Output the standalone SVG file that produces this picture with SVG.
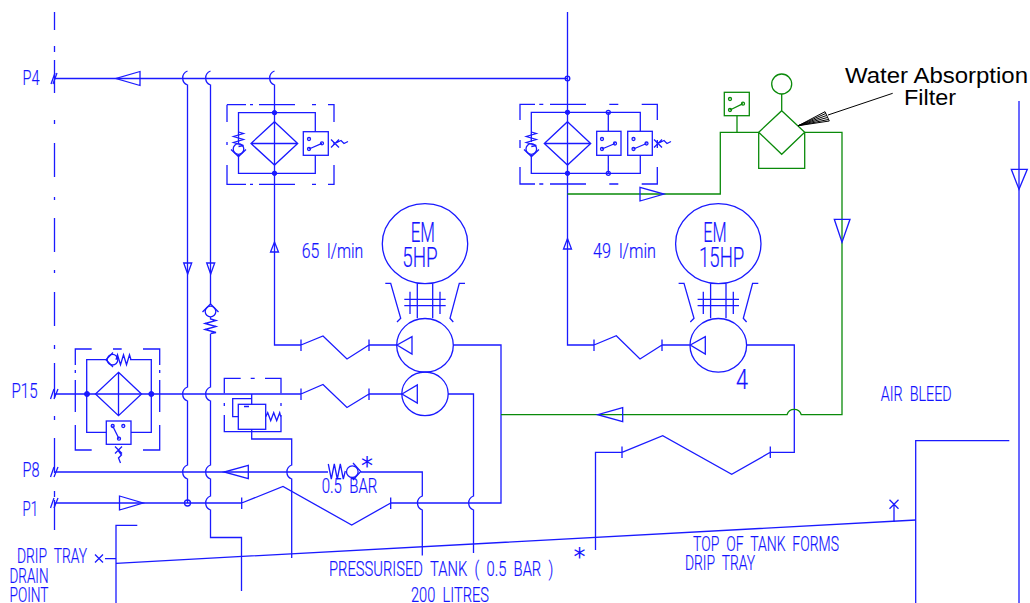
<svg xmlns="http://www.w3.org/2000/svg" width="1030" height="603" viewBox="0 0 1030 603">
<style>
.b{fill:none;stroke:#1a1aff;stroke-width:1.3}
.g{fill:none;stroke:#0a8a0a;stroke-width:1.3}
.k{fill:none;stroke:#000;stroke-width:1}
.f{fill:#1a1aff;stroke:#1a1aff}
text{font-family:"Roboto","Liberation Sans",sans-serif;font-weight:300;fill:#1414ff;stroke:#1414ff;stroke-width:.2;font-size:20px;word-spacing:5px}
.big{font-size:27px}
.bk{font-family:"Liberation Sans",Arial,sans-serif;font-weight:400;fill:#000;stroke:none;font-size:22.500px;word-spacing:0}
.st{font-family:"DejaVu Sans",sans-serif;font-weight:400;font-size:24px;stroke:none}
</style>
<rect width="1030" height="603" fill="#fff"/>
<g id="connectors">
<path class="b" d="M54.5 12V30M54.5 46V52M54.5 60V93M54.5 120V124M54.5 143V177M54.5 197V200M54.5 218V252M54.5 270V273M54.5 292V326M54.5 345V349M54.5 363V398M54.5 416V420M54.5 438V473M54.5 491V497M54.5 500V530"/>
<path class="b" d="M51 84L55 73M53 84L57 73M50.5 399L54 389M54 399L58 389M50.5 477L54 467M54 477L58 467M50.5 508L54 498M54 508L58 498"/>
<path class="b" d="M54 78.5H567.5"/>
<path class="b" d="M54 394H301M54 472H328M54 503H242"/>
<path class="b" d="M187.5 71a7.5 7.5 0 0 0 0 14V387a7.5 7.5 0 0 0 0 14V465a7.5 7.5 0 0 0 0 14V503"/>
<path class="b" d="M210.5 71a7.5 7.5 0 0 0 0 14V304M210.5 334V387a7.5 7.5 0 0 0 0 14V465a7.5 7.5 0 0 0 0 14V496a7.5 7.5 0 0 0 0 14V537.5H241.5V591"/>
<path class="b" d="M274.5 71a7.5 7.5 0 0 0 0 14V345H301M301 339.5V351M301 345L323 336L347 359L369 345M369 339.5V351M369 345H397"/>
<path class="b" d="M301 388.5V400M301 394L323 384.5L347 407.5L369 394M369 388.5V400M369 394H402"/>
<path class="b" d="M241.700 497.500V509M241.700 503L283 486.500L351.700 525L390.700 503M390.700 497.500V509M390.700 503H501V345H453.300"/>
<path class="b" d="M448 394H473.500V496a7.500 7.500 0 0 0 0 14V553"/>
<path class="b" d="M360.700 472H422.300V496a7.500 7.500 0 0 0 0 14V555.500"/>
<path class="b" d="M251.700 431.700V439H291.700V465a7.500 7.500 0 0 0 0 14V558"/>
<path class="b" d="M567.500 12V345H594M594 339.500V351M594 345L616.300 335.700L640 359L662 345M662 339.500V351M662 345H689.700"/>
<path class="b" d="M746.700 345H794.300V452.300H770.300M770.300 446.500V458M770.300 452.300L731.700 474.300L662.700 435.700L622 452.300M622 446.500V458M622 452.300H595.500V550"/>
<path class="g" d="M567.500 194H720.300V132.300H758.700M804.700 132.300H842V414.700H801.300A7.500 7.500 0 0 0 787 414.700H501"/>
<path class="b" d="M140 71.500V85.500L116 78.500ZM183.700 263H191.700L187.700 274ZM206.700 263H214.700L210.700 274ZM270.500 252H278.500L274.500 242ZM563.500 249H571.500L567.500 238.500ZM119.500 496V510L143 503ZM248.300 465.300V478.700L224 472ZM640 187.300V201L664 194ZM622.700 407.700V421.700L597.700 414.700ZM834.300 219.300H850L842 242.300ZM1011.300 169.300H1027.300L1019 189.300Z"/>
<circle class="b" cx="187.500" cy="503" r="3"/>
<circle class="b" cx="567.500" cy="78.500" r="2.300"/>
</g>
<g id="check-return">
<circle class="b" cx="210.500" cy="311.500" r="5.300"/>
<path class="b" d="M202.500 312L210.500 304L218.500 312M210.500 317V319l5.500 1.500-11 3 11 3-11 3 11 3-5.500 1"/>
</g>
<g id="filter-left">
<path class="b" d="M227 104.700V122M227 142V145M227 165V184.300H246M250 184.300H253M259 184.300H295M312 184.300H316M328 184.300H334V165M334 145V142M334 122V104.700H328M316 104.700H312M295 104.700H259M253 104.700H250M246 104.700H227"/>
<path class="b" d="M274.500 112.700H315.300V131.700M315.300 155.300V173.300H238.500V155M238.500 143V112.700H274.500"/>
<path class="b" d="M274.500 121.700L297.700 143.500L274.500 165L251 143.500ZM251 143.500H297.700"/>
<circle class="f" cx="274.500" cy="112.700" r="2.200"/><circle class="f" cx="274.500" cy="173.300" r="2.200"/>
<path class="b" d="M238.500 132l5 1.500-10 3 10 3-10 3 10 3-5 1M231 149.500l7.500 7 7.500-7"/><circle class="b" cx="238.500" cy="149" r="5.300"/>
<rect class="b" x="303.300" y="131.700" width="25" height="23.600"/>
<circle class="b" cx="309" cy="139" r="1.500"/><circle class="b" cx="309" cy="149" r="1.500"/><circle class="b" cx="322" cy="143.300" r="1.500"/>
<path class="b" d="M309 149L322 143.300M331 139.500l8 8M331 147.500l8-8M335 143.500l6-3 3 3 4-2"/>
</g>
<g id="filter-right">
<path class="b" d="M520 120V104.300H535M539.300 104.300H543.300M550 104.300H586M609.300 104.300H618.300M641.700 104.300H657.300V120M657.300 140V148M657.300 167V184H641.700M618.300 184H609.300M586 184H550M543.300 184H539.300M535 184H520V167M520 148V140"/>
<path class="b" d="M531.300 142V112.300H640.300V131.300M640.300 155.300V173.300H531.300V155"/>
<path class="b" d="M567.500 121.700L590.700 143.500L567.500 165L544.300 143.500ZM544.300 143.500H590.700M608.300 112.300V131.300M608.300 155.300V173.300"/>
<circle class="f" cx="567.500" cy="112.300" r="2.200"/><circle class="f" cx="567.500" cy="173.300" r="2.200"/>
<circle class="b" cx="608.300" cy="112.300" r="2"/><circle class="b" cx="608.300" cy="173.300" r="2"/>
<path class="b" d="M531.300 132l5 1.500-10 3 10 3-10 3 10 3-5 1M524 149.500l7.500 7 7.500-7"/><circle class="b" cx="531.300" cy="149" r="5.300"/>
<rect class="b" x="596.700" y="131.300" width="24.300" height="24"/><rect class="b" x="627.700" y="131.300" width="24.600" height="24"/>
<circle class="b" cx="602" cy="139" r="1.500"/><circle class="b" cx="602" cy="149" r="1.500"/><circle class="b" cx="615" cy="143.500" r="1.500"/>
<circle class="b" cx="633.500" cy="139" r="1.500"/><circle class="b" cx="633.500" cy="149" r="1.500"/><circle class="b" cx="646.500" cy="143.500" r="1.500"/>
<path class="b" d="M602 149L615 143.500M633.500 149L646.500 143.500M654 139.500l8 8M654 147.500l8-8M658 143.500l6-3 3 3 4-2"/>
</g>
<g id="filter-p15">
<path class="b" d="M75.300 365V349H91.700M113 349H121.700M143 349H159.700V365M159.700 370V373M159.700 380V412M159.700 425V450H143M91.700 450H75.300V425M75.300 412V380M75.300 373V370"/>
<path class="b" d="M106 359.700H86.700V432.300H106.300M131 432.300H151.300V359.700H130"/>
<path class="b" d="M118.500 372.300L141.500 394L118.500 415.700L95.500 394ZM118.500 372.300V415.700"/>
<circle class="f" cx="87" cy="394" r="2.500"/><circle class="f" cx="151.300" cy="394" r="2.500"/>
<path class="b" d="M113 352.500L106 359.700L113 367M116 359.700l1.500-5 3 10 3-10 3 10 3-10 1.500 5"/><circle class="b" cx="112.500" cy="359.700" r="5.300"/>
<rect class="b" x="106.300" y="421" width="24.700" height="23.300"/>
<circle class="b" cx="112.700" cy="426" r="1.500"/><circle class="b" cx="123.300" cy="426" r="1.500"/><circle class="b" cx="119" cy="438.700" r="1.500"/>
<path class="b" d="M112.700 426L119 438.700M115 446.500l7 7M115 453.500l7-7M118.500 451l3 4-3 3 2 5"/>
</g>
<g id="relief-valve">
<path class="b" d="M224.300 393.300V378.300H240.700M250.700 378.300H254.700M265 378.300H281V393.300M281 403V406M281 415V431.700H224.300V415M224.300 406V403"/>
<rect class="b" x="238.300" y="404.300" width="27.400" height="25"/>
<path class="b" d="M251.700 394V404.300M251.700 398.700H232.700V416.700H238.300M244 406.500H249M251.700 429.300V431.700M265.700 416.700l2-4 3 8 3-8 3 8 3-8 1 4"/>
</g>
<g id="check-p8">
<path class="b" d="M328.300 464l3 15 3-15 3 15 3-15 3 15 2-8M353 463L360.700 471.500L353 480"/>
<circle class="b" cx="352.300" cy="471.700" r="5.800"/>
</g>
<g id="motor-5hp">
<ellipse class="b" cx="425" cy="243.700" rx="42.700" ry="40"/>
<path class="b" d="M417.300 283.700V318.300M432.700 283.700V318.300M404.300 299.300H445.700M404.300 305.700H445.700M410 291.700V314M440 291.700V314M385.300 283.300H390.700L400.700 318.300L397 322M465 283.300H459.300L450 318.300L453.300 322"/>
</g>
<g id="pump-large">
<ellipse class="b" cx="425" cy="345.300" rx="28.300" ry="26.800"/>
<path class="b" d="M397 345L412 336.700V354Z"/>
</g>
<g id="pump-small">
<ellipse class="b" cx="425" cy="393.800" rx="23.200" ry="21.800"/>
<path class="b" d="M402 394L417.300 385V403Z"/>
</g>
<g id="motor-15hp">
<ellipse class="b" cx="718.300" cy="243.700" rx="42.700" ry="40"/>
<path class="b" d="M710.600 283.700V318.300M726 283.700V318.300M697.600 299.300H739M697.600 305.700H739M703.300 291.700V314M733.300 291.700V314M678.600 283.300H684L694 318.300L690.300 322M758.300 283.300H752.600L743.300 318.300L746.600 322"/>
</g>
<g id="pump-15hp">
<ellipse class="b" cx="718.300" cy="345.300" rx="28.300" ry="26.800"/>
<path class="b" d="M690.300 345L705.300 336.700V354Z"/>
</g>
<g id="water-filter">
<rect class="g" x="724.300" y="92.300" width="25" height="23.400"/>
<circle class="g" cx="730" cy="99" r="1.500"/><circle class="g" cx="730" cy="110" r="1.500"/><circle class="g" cx="743" cy="103.700" r="1.500"/>
<path class="g" d="M730 110L743 103.700M737 115.700V132.300"/>
<path class="g" d="M781.700 110.700L804.700 132.300L781.700 154.300L758.700 132.300ZM758.700 132.300V168.300H804.700V132.300M781.700 94V110.700"/>
<circle class="g" cx="781.700" cy="84" r="10"/>
</g>
<g id="tank">
<path class="b" d="M137.300 525.300H116V603M105 558.700H116M116 563.300L916 520"/>
<path class="b" d="M95 554.500l8 8M95 562.500l8-8"/>
<path class="b" d="M915.700 603V440.700H1009.300M1019 101V603"/>
<path class="b" d="M894 504V522M889.500 499.800l9 9M889.500 508.800l9-9"/>
</g>
<g id="callout">
<path class="k" d="M892.700 93.300L828 115"/>
<path class="k" stroke-width=".7" d="M798.300 125.700L825 111.700M798.300 125.700L825.700 113.500M798.300 125.700L826.500 115.500M798.300 125.700L827.300 117.500M798.300 125.700L828.300 119.500M798.300 125.700L829.300 121M825 111.700L829.300 121"/>
</g>
<g id="labels">
<text x="22.500" y="85" textLength="17" lengthAdjust="spacingAndGlyphs">P4</text>
<text x="11.500" y="397.700" textLength="26" lengthAdjust="spacingAndGlyphs">P15</text>
<text x="22.500" y="476.700" textLength="17" lengthAdjust="spacingAndGlyphs">P8</text>
<text x="22.500" y="516" textLength="15.500" lengthAdjust="spacingAndGlyphs">P1</text>
<text x="17" y="563.300" textLength="70" lengthAdjust="spacingAndGlyphs">DRIP TRAY</text>
<text x="9.500" y="583" textLength="39" lengthAdjust="spacingAndGlyphs">DRAIN</text>
<text x="9.500" y="601.700" textLength="39" lengthAdjust="spacingAndGlyphs">POINT</text>
<text x="301.700" y="257.700" textLength="61.600" lengthAdjust="spacingAndGlyphs">65 l/min</text>
<text x="593" y="257.700" textLength="63" lengthAdjust="spacingAndGlyphs">49 l/min</text>
<text class="big" x="410.700" y="241.700" textLength="24.300" lengthAdjust="spacingAndGlyphs">EM</text>
<text class="big" x="402.300" y="267.300" textLength="35.400" lengthAdjust="spacingAndGlyphs">5HP</text>
<text class="big" x="703.300" y="241.700" textLength="23.400" lengthAdjust="spacingAndGlyphs">EM</text>
<text class="big" x="699" y="267.300" textLength="45.300" lengthAdjust="spacingAndGlyphs">15HP</text>
<text class="big" x="736" y="389.300" textLength="12" lengthAdjust="spacingAndGlyphs">4</text>
<text x="880.700" y="400.700" textLength="71" lengthAdjust="spacingAndGlyphs">AIR BLEED</text>
<text x="321.700" y="493.300" textLength="55.600" lengthAdjust="spacingAndGlyphs">0.5 BAR</text>
<text x="329" y="575.700" textLength="224.300" lengthAdjust="spacingAndGlyphs">PRESSURISED TANK ( 0.5 BAR )</text>
<text x="411" y="602" textLength="78" lengthAdjust="spacingAndGlyphs">200 LITRES</text>
<text x="693" y="551" textLength="146" lengthAdjust="spacingAndGlyphs">TOP OF TANK FORMS</text>
<text x="685" y="570" textLength="70" lengthAdjust="spacingAndGlyphs">DRIP TRAY</text>
<text class="st" x="361" y="474">*</text>
<text class="st" x="573.500" y="565">*</text>
<text class="bk" x="845" y="82.700" textLength="183" lengthAdjust="spacingAndGlyphs">Water Absorption</text>
<text class="bk" x="904" y="105" textLength="52" lengthAdjust="spacingAndGlyphs">Filter</text>
</g>
</svg>
